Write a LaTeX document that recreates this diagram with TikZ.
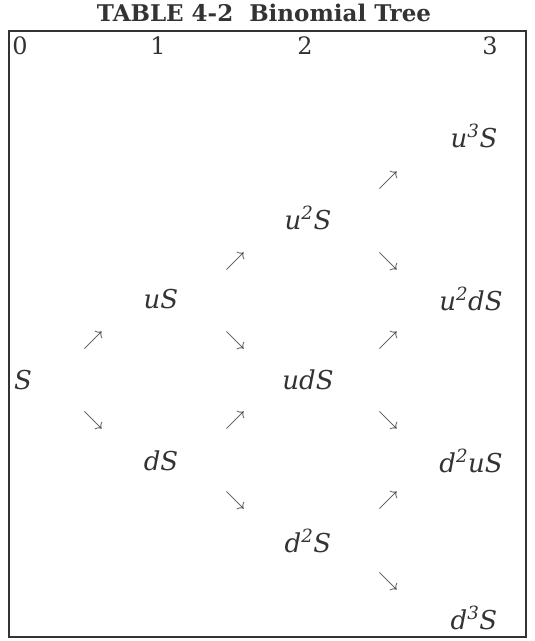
\RequirePackage{fix-cm}
\documentclass[tikz,border=0pt]{standalone}
\usepackage{amsmath}
\usepackage{amssymb}
\usepackage{fontspec}
\setmainfont{DejaVu Serif}
\usepackage{xcolor}
\usepackage{tikz}
\usetikzlibrary{positioning, calc}

\begin{document}
\begin{tikzpicture}[x=1pt, y=-1pt,
    lbl/.style={inner sep=0pt, font=\fontsize{26}{28}\selectfont\itshape, text=black!80},
    hdr/.style={inner sep=0pt, font=\fontsize{24}{26}\selectfont, text=black!80},
    arr/.style={inner sep=0pt, font=\fontsize{20}{22}\selectfont, text=black!75}]
  \useasboundingbox (0,0) rectangle (535,641);

  % Title and frame
  \node[inner sep=0pt, font=\fontsize{23}{26}\selectfont\bfseries, text=black!80] (title) at (264,13) {TABLE 4-2\ \ Binomial Tree};
  \draw[line width=1.8pt, black!80] (9,31) rectangle (526,637);

  % Period headers
  \node[hdr] (t0) at (20,46) {0};
  \node[hdr] (t1) at (158,46) {1};
  \node[hdr] (t2) at (305,46) {2};
  \node[hdr] (t3) at (490,46) {3};

  % Prices
  \node[lbl] (S)    at (23,380)  {S};
  \node[lbl] (uS)   at (161,299) {uS};
  \node[lbl] (dS)   at (161,461) {dS};
  \node[lbl] (uuS)  at (308,218) {u\textsuperscript{2}S};
  \node[lbl] (udS)  at (308,380) {udS};
  \node[lbl] (ddS)  at (308,541) {d\textsuperscript{2}S};
  \node[lbl] (uuuS) at (474,136) {u\textsuperscript{3}S};
  \node[lbl] (uudS) at (471,299) {u\textsuperscript{2}dS};
  \node[lbl] (dduS) at (471,461) {d\textsuperscript{2}uS};
  \node[lbl] (dddS) at (474,618) {d\textsuperscript{3}S};

  % Up and down moves
  \node[arr] (a1) at (93,340)  {$\nearrow$};
  \node[arr] (a2) at (93,420)  {$\searrow$};
  \node[arr] (a3) at (235,261) {$\nearrow$};
  \node[arr] (a4) at (235,340) {$\searrow$};
  \node[arr] (a5) at (235,420) {$\nearrow$};
  \node[arr] (a6) at (235,500) {$\searrow$};
  \node[arr] (a7) at (388,180) {$\nearrow$};
  \node[arr] (a8) at (388,261) {$\searrow$};
  \node[arr] (a9) at (388,340) {$\nearrow$};
  \node[arr] (a10) at (388,420) {$\searrow$};
  \node[arr] (a11) at (388,500) {$\nearrow$};
  \node[arr] (a12) at (388,581) {$\searrow$};
\end{tikzpicture}
\end{document}
